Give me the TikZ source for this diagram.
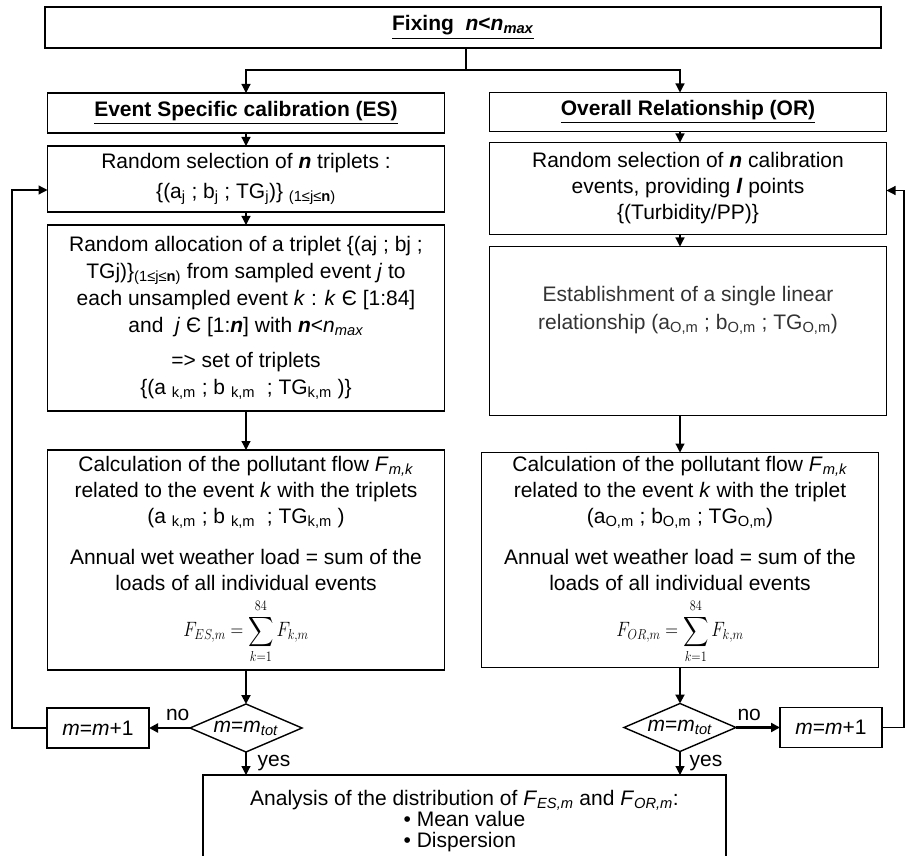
\documentclass[tikz,border=0pt]{standalone}
\usepackage{amsmath}
\usepackage{graphicx}
\usepackage{fontspec}
\setmainfont{Liberation Sans}
\usetikzlibrary{arrows.meta,positioning,shapes.geometric}
\newcommand{\low}[1]{\textsubscript{#1}}
\newcommand{\bn}{\textbf{\textit{n}}}
\newcommand{\loadsum}[1]{{\fontsize{20.74}{22}\selectfont
  \scalebox{0.85}[1]{$\displaystyle F_{#1,m}=\sum_{k=1}^{84}F_{k,m}$}}}

\begin{document}
\begin{tikzpicture}[x=1pt,y=-1pt,
    every node/.style={font=\fontsize{21}{26}\selectfont},
    box/.style={draw,line width=1.6pt,minimum width=397pt,align=center,inner sep=0pt,outer sep=0pt},
    test/.style={draw,diamond,line width=1.4pt,minimum width=112pt,minimum height=48pt,aspect=2.3,inner sep=0pt,outer sep=0pt},
    incr/.style={draw,line width=1.6pt,minimum width=102pt,minimum height=40pt,inner sep=0pt,outer sep=0pt},
    link/.style={-{Triangle[length=9pt,width=9pt]},line width=1.2pt},
    flow/.style={link,line width=2pt},
    answer/.style={inner sep=1pt}]
  \path[use as bounding box,clip] (0,0) rectangle (906,856);

  \node[box,minimum width=836pt,minimum height=41pt] (fix) at (463,27.5)
       {\underline{\textbf{Fixing \ \textit{n}<\textit{n}\low{\textit{max}}}}};

  \node[box,minimum height=40pt] (esh) at (246,113)
       {\underline{\textbf{Event Specific calibration (ES)}}};
  \node[box,minimum height=66pt,below=13pt of esh] (esrand)
       {Random selection of \bn{} triplets :\\[4pt]
        \{(a\low{j} ; b\low{j} ; TG\low{j})\} \low{(1≤j≤\textbf{n})}};
  \node[box,minimum height=186pt,below=13pt of esrand,font=\fontsize{21}{27}\selectfont] (esalloc)
       {Random allocation of a triplet \{(aj ; bj ;\\
        TGj)\}\low{(1≤j≤\textbf{n})} from sampled event \textit{j} to\\
        each unsampled event \textit{k} : \textit{k} Є [1:84]\\
        and \ \textit{j} Є [1:\bn] with \bn<\textit{n}\low{\textit{max}}\\[8pt]
        => set of triplets\\
        \{(a \low{k,m} ; b \low{k,m} \ ; TG\low{k,m} )\}};
  \node[box,minimum height=220pt,below=39pt of esalloc] (escalc)
       {Calculation of the pollutant flow \textit{F}\low{\textit{m,k}}\\
        related to the event \textit{k} with the triplets\\
        (a \low{k,m} ; b \low{k,m} \ ; TG\low{k,m} )\\[15pt]
        Annual wet weather load = sum of the\\
        loads of all individual events\\[8pt]
        \loadsum{ES}};
  \node[test,below=34pt of escalc] (estest) {\textit{m}=\textit{m}\low{\textit{tot}}};
  \node[incr,left=41pt of estest] (esinc) {\textit{m}=\textit{m}+1};

  \node[box,minimum height=39pt] (orh) at (688,112)
       {\underline{\textbf{Overall Relationship (OR)}}};
  \node[box,minimum height=92pt,below=11pt of orh] (orrand)
       {Random selection of \bn{} calibration\\
        events, providing \textbf{\textit{l}} points\\
        \{(Turbidity/PP)\}};
  \node[box,minimum height=169pt,below=12pt of orrand] (orestab) {};
  \node[text=black!80,font=\fontsize{21}{28}\selectfont,align=center] (orestabtxt)
       at ([yshift=21pt]orestab.center)
       {Establishment of a single linear\\
        relationship (a\low{O,m} ; b\low{O,m} ; TG\low{O,m})};
  \node[box,minimum height=215pt,below=37pt of orestab,xshift=-8pt] (orcalc)
       {Calculation of the pollutant flow \textit{F}\low{\textit{m,k}}\\
        related to the event \textit{k} with the triplet\\
        (a\low{O,m} ; b\low{O,m} ; TG\low{O,m})\\[15pt]
        Annual wet weather load = sum of the\\
        loads of all individual events\\[8pt]
        \loadsum{OR}};
  \node[test,below=36pt of orcalc] (ortest) {\textit{m}=\textit{m}\low{\textit{tot}}};
  \node[incr,right=44pt of ortest] (orinc) {\textit{m}=\textit{m}+1};

  \node[box,minimum width=523pt,minimum height=94pt,anchor=north west,
        font=\fontsize{21}{21}\selectfont] (ana) at (203,775)
       {Analysis of the distribution of \textit{F}\low{\textit{ES,m}} and \textit{F}\low{\textit{OR,m}}:\\
        \begin{tabular}{@{}l@{}}• Mean value\\• Dispersion\end{tabular}};

  \coordinate (split) at (466,70);
  \draw[line width=1.2pt] (split |- fix.south) -- (split);
  \draw[link] (split) -| (esh.north);
  \draw[link] (split) -| (orh.north -| orcalc.north);

  \draw[link] (esh) -- (esrand);
  \draw[link] (esrand) -- (esalloc);
  \draw[link] (esalloc) -- (escalc);
  \draw[flow] (escalc) -- (estest);
  \draw[link,line width=2.4pt] (estest) -- (esinc)
       node[answer,pos=0.3,above=5pt] {no};
  \draw[link] (estest) -- (estest |- ana.north)
       node[answer,midway,right=10pt] {yes};
  \draw[link] (esinc.west) -- ++(-35,0) |- ([yshift=-11pt]esrand.west);

  \draw[link] (orh.south -| orcalc) -- (orrand.north -| orcalc);
  \draw[link] (orrand.south -| orcalc) -- (orestab.north -| orcalc);
  \draw[link] (orestab.south -| orcalc) -- (orcalc);
  \draw[flow] (orcalc) -- (ortest);
  \draw[link,line width=2.4pt] (ortest) -- (orinc)
       node[answer,pos=0.3,above=5pt] {no};
  \draw[link] (ortest) -- (ortest |- ana.north)
       node[answer,midway,right=8pt] {yes};
  \draw[link] (orinc.east) -- ++(22,0) |- ([yshift=-2pt]orrand.east);
\end{tikzpicture}
\end{document}
